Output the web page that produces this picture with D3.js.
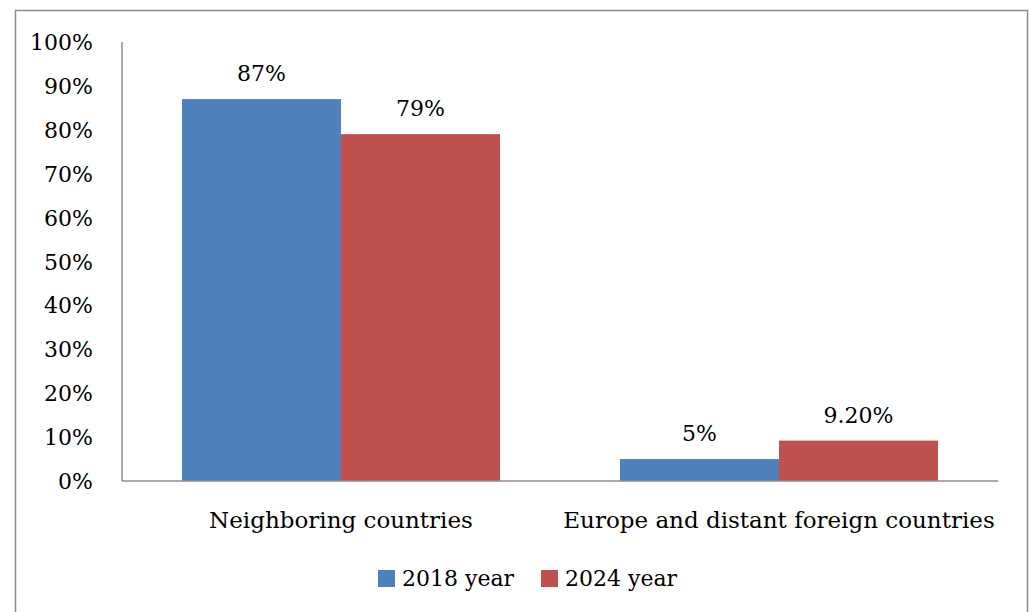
<!DOCTYPE html>
<html>
<head>
<meta charset="utf-8">
<script src="https://cdn.jsdelivr.net/npm/d3@7"></script>
<style>
  body { margin: 0; background: #fff; }
  svg text { font-family: "DejaVu Serif", serif; fill: #000; }
</style>
</head>
<body>
<div id="chart"></div>
<script>
let categories = ["Neighboring countries", "Europe and distant foreign countries"];
let seriesNames = ["2018 year", "2024 year"];
let values2018 = [0.87, 0.05];
let values2024 = [0.79, 0.092];
let valueLabels2018 = ["87%", "5%"];
let valueLabels2024 = ["79%", "9.20%"];
let yTicks = [0, 0.1, 0.2, 0.3, 0.4, 0.5, 0.6, 0.7, 0.8, 0.9, 1.0];
let colors = ["#4F81BD", "#C0504D"];

let SVGwidth = 1030, SVGheight = 612;
let margin = {top: 42, right: 32, bottom: 131, left: 122};
let width = SVGwidth - margin.left - margin.right,
    height = SVGheight - margin.top - margin.bottom;

let svg = d3.select("#chart").append("svg")
    .attr("width", SVGwidth)
    .attr("height", SVGheight);

// outer frame
svg.append("rect")
    .attr("x", 15.5).attr("y", 10.5)
    .attr("width", 1012).attr("height", 620)
    .attr("fill", "none")
    .attr("stroke", "#8c8c8c")
    .attr("stroke-width", 1.5);

let g = svg.append("g")
    .attr("transform", "translate(" + margin.left + "," + margin.top + ")");

let x0 = d3.scaleBand().domain(categories).range([0, width]).paddingInner(0.274).paddingOuter(0.137);
let x1 = d3.scaleBand().domain(seriesNames).range([0, x0.bandwidth()]);
let y = d3.scaleLinear().domain([0, 1]).range([height, 0]);

// y tick labels
g.selectAll(".yLabel")
    .data(yTicks)
    .enter().append("text")
    .attr("class", "yLabel")
    .attr("x", -29)
    .attr("y", function(d) { return y(d) + 8; })
    .style("text-anchor", "end")
    .style("font-size", "22px")
    .text(d3.format(".0%"));

let rows = categories.map(function(c, i) {
    return [
        {cat: c, s: seriesNames[0], v: values2018[i], lab: valueLabels2018[i], col: colors[0]},
        {cat: c, s: seriesNames[1], v: values2024[i], lab: valueLabels2024[i], col: colors[1]}
    ];
});
let bars = [].concat.apply([], rows);

g.selectAll(".bar")
    .data(bars)
    .enter().append("rect")
    .attr("class", "bar")
    .attr("x", function(d) { return x0(d.cat) + x1(d.s); })
    .attr("width", x1.bandwidth())
    .attr("y", function(d) { return y(d.v); })
    .attr("height", function(d) { return height - y(d.v); })
    .attr("fill", function(d) { return d.col; });

g.selectAll(".valLabel")
    .data(bars)
    .enter().append("text")
    .attr("class", "valLabel")
    .attr("x", function(d) { return x0(d.cat) + x1(d.s) + x1.bandwidth() / 2; })
    .attr("y", function(d) { return y(d.v) - 18; })
    .style("text-anchor", "middle")
    .style("font-size", "22px")
    .text(function(d) { return d.lab; });

// axes lines
g.append("line")
    .attr("x1", 0).attr("x2", 0)
    .attr("y1", y(1)).attr("y2", height)
    .attr("stroke", "#8c8c8c").attr("stroke-width", 1.5);
g.append("line")
    .attr("x1", 0).attr("x2", width)
    .attr("y1", height).attr("y2", height)
    .attr("stroke", "#8c8c8c").attr("stroke-width", 1.5);

g.selectAll(".catLabel")
    .data(categories)
    .enter().append("text")
    .attr("class", "catLabel")
    .attr("x", function(d) { return x0(d) + x0.bandwidth() / 2; })
    .attr("y", height + 47)
    .style("text-anchor", "middle")
    .style("font-size", "23px")
    .text(function(d) { return d; });

// legend
let legendX = [378, 541];
let legend = svg.selectAll(".legend")
    .data(seriesNames)
    .enter().append("g")
    .attr("class", "legend")
    .attr("transform", function(d, i) { return "translate(" + legendX[i] + ",570)"; });

legend.append("rect")
    .attr("width", 17).attr("height", 17)
    .attr("fill", function(d, i) { return colors[i]; });

legend.append("text")
    .attr("x", 24)
    .attr("y", 16)
    .style("font-size", "22px")
    .text(function(d) { return d; });
</script>
</body>
</html>
